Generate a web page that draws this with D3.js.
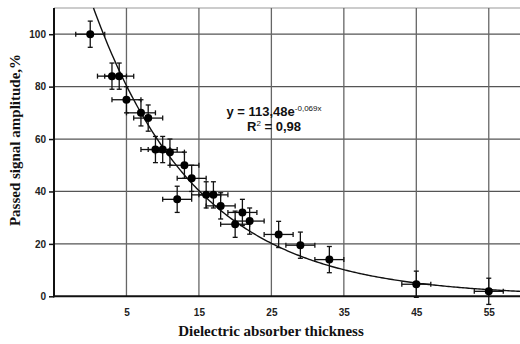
<!DOCTYPE html>
<html>
<head>
<meta charset="utf-8">
<script src="https://cdn.jsdelivr.net/npm/d3@7"></script>
<style>
  body { margin: 0; background: #fff; }
  .tick text { font-family: "Liberation Sans", Arial, sans-serif; font-weight: bold; font-size: 10px; fill: #222; }
  .title { font-family: "Liberation Serif", "Times New Roman", serif; font-weight: bold; font-size: 15px; fill: #111; }
  .eq { font-family: "Liberation Sans", Arial, sans-serif; font-weight: bold; font-size: 13px; fill: #111; }
</style>
</head>
<body>
<div id="chart"></div>
<script>
// measured points: thickness vs passed amplitude
const thickness = [0, 3, 4, 5, 7, 8, 9, 10, 11, 12, 13, 14, 16, 17, 18, 20, 21, 22, 26, 29, 33, 45, 55]
const amplitude = [100, 84, 84, 75, 70, 68, 56, 56, 55, 37, 50, 45, 38.7, 38.7, 34.5, 27.5, 32, 28.7, 23.6, 19.5, 14, 4.6, 1.9]
const errX = 2
const errY = 5

const xTicks = [5, 15, 25, 35, 45, 55]
const yTicks = [0, 20, 40, 60, 80, 100]

// exponential fit
const fitA = 113.48
const fitB = -0.069

const width = 520,
  height = 344
const plotLeft = 54, plotTop = 8, plotBottom = 296.3, plotRight = 525

const svg = d3.select('#chart')
  .append('svg')
  .attr('width', width)
  .attr('height', height)
  .style('display', 'block')

const x = d3.scaleLinear().domain([-5, 60]).range([plotLeft, plotRight])
const y = d3.scaleLinear().domain([0, 110]).range([plotBottom, plotTop])

// grid
svg.append('line')
  .attr('x1', plotLeft).attr('x2', width)
  .attr('y1', y(110)).attr('y2', y(110))
  .attr('stroke', '#bbb').attr('stroke-width', 1.5)

svg.append('g')
  .selectAll('line')
  .data(yTicks.filter(d => d > 0))
  .enter()
  .append('line')
  .attr('x1', plotLeft).attr('x2', width)
  .attr('y1', d => y(d)).attr('y2', d => y(d))
  .attr('stroke', '#555').attr('stroke-width', 1.3)

svg.append('g')
  .selectAll('line')
  .data(xTicks)
  .enter()
  .append('line')
  .attr('x1', d => x(d)).attr('x2', d => x(d))
  .attr('y1', y(110)).attr('y2', plotBottom)
  .attr('stroke', '#666').attr('stroke-width', 1.3)

// axes
const yAxis = d3.axisLeft(y).tickValues(yTicks).tickSize(5).tickPadding(3)
const yAxisGroup = svg.append('g')
  .attr('transform', `translate(${plotLeft},0)`)
  .call(yAxis)
yAxisGroup.select('.domain').remove()
yAxisGroup.selectAll('.tick line').attr('stroke', '#111').attr('stroke-width', 1.5)

const xAxis = d3.axisBottom(x).tickValues(xTicks).tickSize(0).tickPadding(13)
const xAxisGroup = svg.append('g')
  .attr('transform', `translate(0,${plotBottom})`)
  .call(xAxis)
xAxisGroup.select('.domain').remove()

svg.append('line')
  .attr('x1', plotLeft).attr('x2', plotLeft)
  .attr('y1', y(110)).attr('y2', plotBottom + 1)
  .attr('stroke', '#111').attr('stroke-width', 2)
svg.append('line')
  .attr('x1', plotLeft - 1).attr('x2', width)
  .attr('y1', plotBottom).attr('y2', plotBottom)
  .attr('stroke', '#111').attr('stroke-width', 2)

// trend curve from the fitted equation
const xStart = Math.log(110 / fitA) / fitB
const curveX = d3.range(xStart, 60.01, 0.25)
const line = d3.line()
  .x(d => x(d))
  .y(d => y(fitA * Math.exp(fitB * d)))
svg.append('path')
  .datum(curveX)
  .attr('d', line)
  .attr('fill', 'none')
  .attr('stroke', '#111')
  .attr('stroke-width', 1.4)

// error bars and points
const points = thickness.map((t, i) => ({ t: t, a: amplitude[i] }))
const cap = 2.5
const bars = svg.append('g').attr('stroke', '#111').attr('stroke-width', 1.3)
points.forEach(d => {
  const cx = x(d.t), cy = y(d.a)
  const x0 = x(d.t - errX), x1 = x(d.t + errX)
  const y0 = y(d.a - errY), y1 = y(d.a + errY)
  bars.append('line').attr('x1', x0).attr('x2', x1).attr('y1', cy).attr('y2', cy)
  bars.append('line').attr('x1', x0).attr('x2', x0).attr('y1', cy - cap).attr('y2', cy + cap)
  bars.append('line').attr('x1', x1).attr('x2', x1).attr('y1', cy - cap).attr('y2', cy + cap)
  bars.append('line').attr('x1', cx).attr('x2', cx).attr('y1', y0).attr('y2', y1)
  bars.append('line').attr('x1', cx - cap).attr('x2', cx + cap).attr('y1', y0).attr('y2', y0)
  bars.append('line').attr('x1', cx - cap).attr('x2', cx + cap).attr('y1', y1).attr('y2', y1)
})

svg.append('g')
  .selectAll('circle')
  .data(points)
  .enter()
  .append('circle')
  .attr('cx', d => x(d.t))
  .attr('cy', d => y(d.a))
  .attr('r', 4)
  .attr('fill', '#000')

// equation label
const eq = svg.append('text').attr('class', 'eq')
  .attr('x', 274).attr('y', 115.5).attr('text-anchor', 'middle')
eq.append('tspan').text('y = 113,48e')
eq.append('tspan').attr('dy', -5).style('font-size', '8px').style('font-weight', 'normal').text('-0,069x')

const r2 = svg.append('text').attr('class', 'eq')
  .attr('x', 274).attr('y', 131).attr('text-anchor', 'middle')
r2.append('tspan').text('R')
r2.append('tspan').attr('dy', -5).style('font-size', '8px').style('font-weight', 'normal').text('2')
r2.append('tspan').attr('dy', 5).text(' = 0,98')

// axis titles
svg.append('text').attr('class', 'title')
  .attr('x', 271).attr('y', 336)
  .attr('text-anchor', 'middle')
  .text('Dielectric absorber thickness')

svg.append('text').attr('class', 'title')
  .attr('transform', 'translate(20,140) rotate(-90)')
  .attr('text-anchor', 'middle')
  .text('Passed signal amplitude,%')
</script>
</body>
</html>
